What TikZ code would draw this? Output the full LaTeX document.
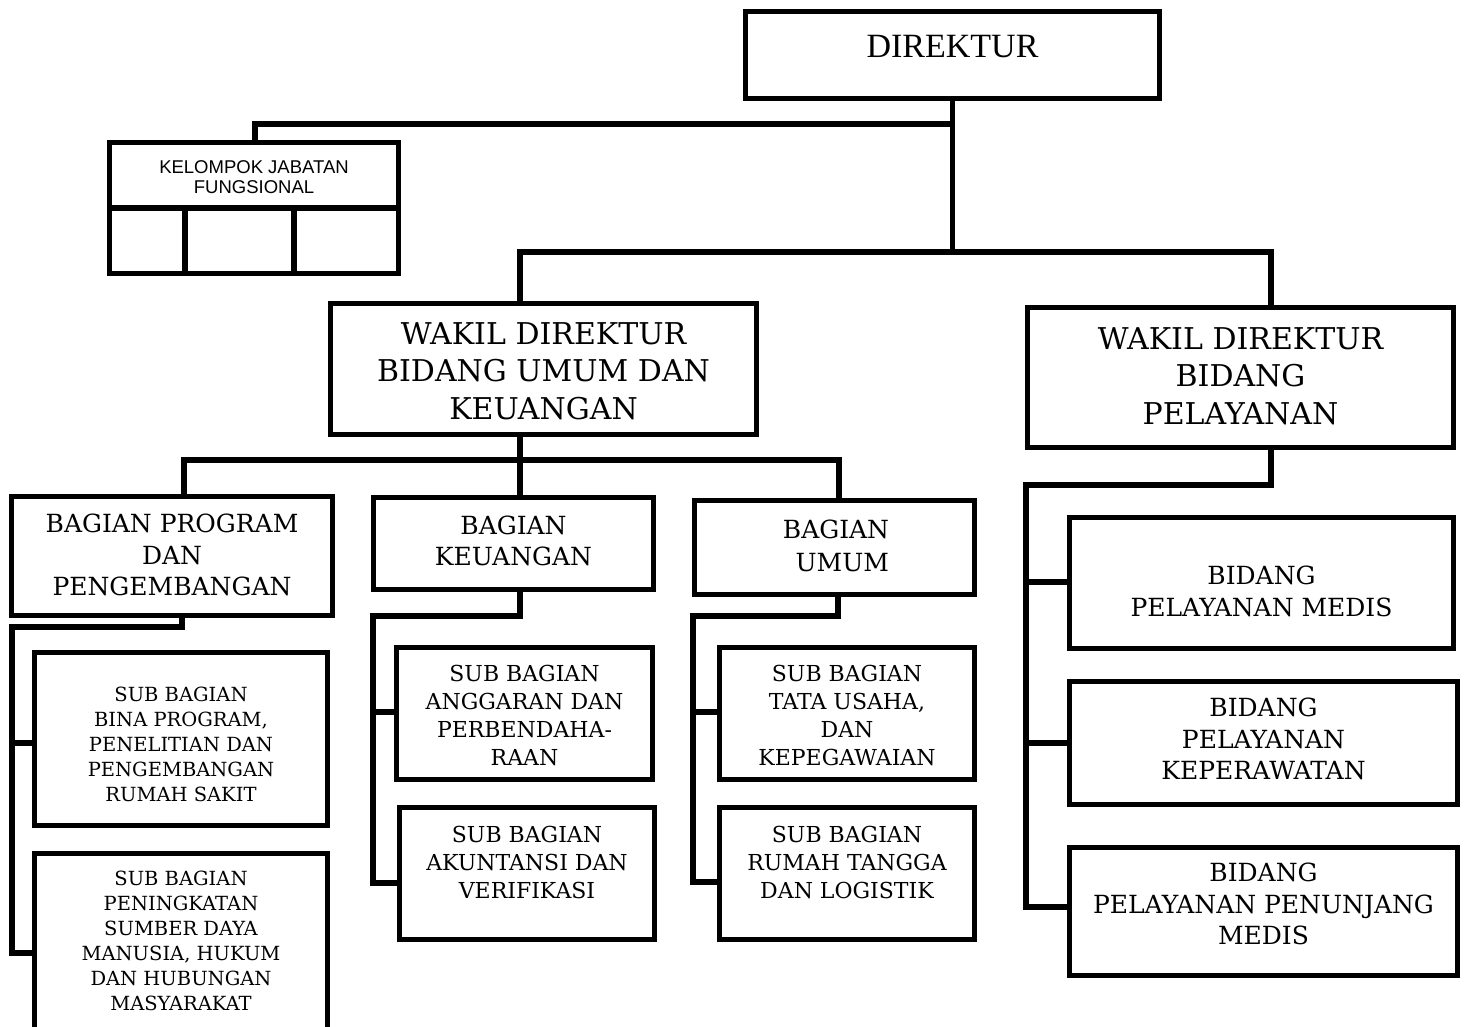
\documentclass[tikz,border=0pt]{standalone}
\usepackage{fontspec}
\setmainfont{DejaVu Serif}
\newfontfamily\dirfont{Liberation Serif}
\newfontfamily\kjffont{Liberation Sans}
\begin{document}
\begin{tikzpicture}[x=1pt,y=-1pt,
  box/.style={draw, line width=5.5pt, inner sep=0pt},
  conn/.style={line width=5.5pt, line join=miter},
  lbl/.style={align=center, inner sep=0pt, text depth=0pt},
  fw/.style={font=\fontsize{30}{37.5}\selectfont},
  fb/.style={font=\fontsize{25}{31.5}\selectfont},
  fs/.style={font=\fontsize{19.5}{25}\selectfont},
  fa/.style={font=\fontsize{22}{28}\selectfont},
  fd/.style={font=\fontsize{25}{31.5}\selectfont}]
\useasboundingbox (0,0) rectangle (1464,1026);

% boxes
\node[box, minimum width=414pt, minimum height=87pt] (dir) at (952.5,55) {};
\node[box, minimum width=289pt, minimum height=65.5pt] (kjf) at (254,175.25) {};
\node[box, minimum width=75.5pt, minimum height=65.5pt] (kjfa) at (147.25,240.75) {};
\node[box, minimum width=109pt, minimum height=65.5pt] (kjfb) at (239.5,240.75) {};
\node[box, minimum width=104.5pt, minimum height=65.5pt] (kjfc) at (346.25,240.75) {};
\node[box, minimum width=426pt, minimum height=131pt] (w1) at (543.5,369) {};
\node[box, minimum width=426pt, minimum height=140pt] (w2) at (1240.5,377.5) {};
\node[box, minimum width=321pt, minimum height=119pt] (bpp) at (172,556) {};
\node[box, minimum width=280pt, minimum height=92pt] (bk) at (513.5,543.5) {};
\node[box, minimum width=280pt, minimum height=94pt] (bu) at (834.5,547.5) {};
\node[box, minimum width=293pt, minimum height=173pt] (sb1) at (181,739) {};
\node[box, minimum width=293pt, minimum height=176.5pt] (sb2) at (181,941.75) {};
\node[box, minimum width=256pt, minimum height=132pt] (sba) at (524.5,713.5) {};
\node[box, minimum width=255pt, minimum height=132pt] (sbak) at (527,873.5) {};
\node[box, minimum width=255pt, minimum height=132pt] (sbt) at (847,713.5) {};
\node[box, minimum width=255pt, minimum height=132pt] (sbr) at (847,873.5) {};
\node[box, minimum width=384pt, minimum height=131pt] (bpm) at (1261.5,583) {};
\node[box, minimum width=388pt, minimum height=123pt] (bpk) at (1263.5,743) {};
\node[box, minimum width=388pt, minimum height=128pt] (bppm) at (1263.5,911.5) {};

% texts
\node[lbl, font=\dirfont\fontsize{34}{40}\selectfont] (tdir) at (952.5,46) {DIREKTUR};
\node[lbl, font=\kjffont\fontsize{18.5}{20}\selectfont] (tkjf) at (254,177) {KELOMPOK JABATAN\\FUNGSIONAL};
\node[lbl, fw] (tw1) at (543.5,371) {WAKIL DIREKTUR\\BIDANG UMUM DAN\\KEUANGAN};
\node[lbl, fw] (tw2) at (1240.5,376) {WAKIL DIREKTUR\\BIDANG\\PELAYANAN};
\node[lbl, fb] (tbpp) at (172,555) {BAGIAN PROGRAM\\DAN\\PENGEMBANGAN};
\node[lbl, fb] (tbk) at (513.5,540.5) {BAGIAN\\KEUANGAN};
\node[lbl, fb, font=\fontsize{25}{33}\selectfont] (tbu) at (836,545.5) {BAGIAN\\\hspace*{0.5em}UMUM};
\node[lbl, fs] (tsb1) at (181,744) {SUB BAGIAN\\BINA PROGRAM,\\PENELITIAN DAN\\PENGEMBANGAN\\RUMAH SAKIT};
\node[lbl, fs] (tsb2) at (181,940.5) {SUB BAGIAN\\PENINGKATAN\\SUMBER DAYA\\MANUSIA, HUKUM\\DAN HUBUNGAN\\MASYARAKAT};
\node[lbl, fa] (tsba) at (524.5,715.5) {SUB BAGIAN\\ANGGARAN DAN\\PERBENDAHA-\\RAAN};
\node[lbl, fa] (tsbak) at (527,862) {SUB BAGIAN\\AKUNTANSI DAN\\VERIFIKASI};
\node[lbl, fa] (tsbt) at (847,715.5) {SUB BAGIAN\\TATA USAHA,\\DAN\\KEPEGAWAIAN};
\node[lbl, fa] (tsbr) at (847,862) {SUB BAGIAN\\RUMAH TANGGA\\DAN LOGISTIK};
\node[lbl, fd] (tbpm) at (1261.5,591) {BIDANG\\PELAYANAN MEDIS};
\node[lbl, fd] (tbpk) at (1263.5,739) {BIDANG\\PELAYANAN\\KEPERAWATAN};
\node[lbl, fd] (tbppm) at (1263.5,904) {BIDANG\\PELAYANAN PENUNJANG\\MEDIS};

% top connectors
\coordinate (hL) at (520,252);
\coordinate (hR) at (1271,252);
\coordinate (kj) at (255,124);
\draw[conn] (dir.south) -- (dir.south |- hL);
\draw[conn] (dir.south |- kj) -- (kj) -- (kj |- kjf.north);
\draw[conn] (hL |- w1.north) -- (hL) -- (hR) -- (hR |- w2.north);

% wakil 1 to bagian
\coordinate (bM) at (520,460);
\coordinate (bL) at (184,460);
\coordinate (bR) at (839,460);
\draw[conn] (bM |- w1.south) -- (bM |- bk.north);
\draw[conn] (bL |- bpp.north) -- (bL) -- (bR) -- (bR |- bu.north);

% bagian program subs
\coordinate (p1) at (182,627);
\coordinate (p2) at (12,627);
\coordinate (p3) at (12,743);
\coordinate (p4) at (12,953);
\draw[conn] (p1 |- bpp.south) -- (p1) -- (p2) -- (p4) -- (p4 -| sb2.west);
\draw[conn] (p3) -- (p3 -| sb1.west);

% bagian keuangan subs
\coordinate (k1) at (520,616);
\coordinate (k2) at (373,616);
\coordinate (k3) at (373,712);
\coordinate (k4) at (373,883);
\draw[conn] (k1 |- bk.south) -- (k1) -- (k2) -- (k4) -- (k4 -| sbak.west);
\draw[conn] (k3) -- (k3 -| sba.west);

% bagian umum subs
\coordinate (u1) at (838,616);
\coordinate (u2) at (693,616);
\coordinate (u3) at (693,712);
\coordinate (u4) at (693,882);
\draw[conn] (u1 |- bu.south) -- (u1) -- (u2) -- (u4) -- (u4 -| sbr.west);
\draw[conn] (u3) -- (u3 -| sbt.west);

% wakil 2 subs
\coordinate (r1) at (1271,485);
\coordinate (r2) at (1026,485);
\coordinate (r3) at (1026,582);
\coordinate (r4) at (1026,743);
\coordinate (r5) at (1026,907);
\draw[conn] (r1 |- w2.south) -- (r1) -- (r2) -- (r5) -- (r5 -| bppm.west);
\draw[conn] (r3) -- (r3 -| bpm.west);
\draw[conn] (r4) -- (r4 -| bpk.west);
\end{tikzpicture}
\end{document}
